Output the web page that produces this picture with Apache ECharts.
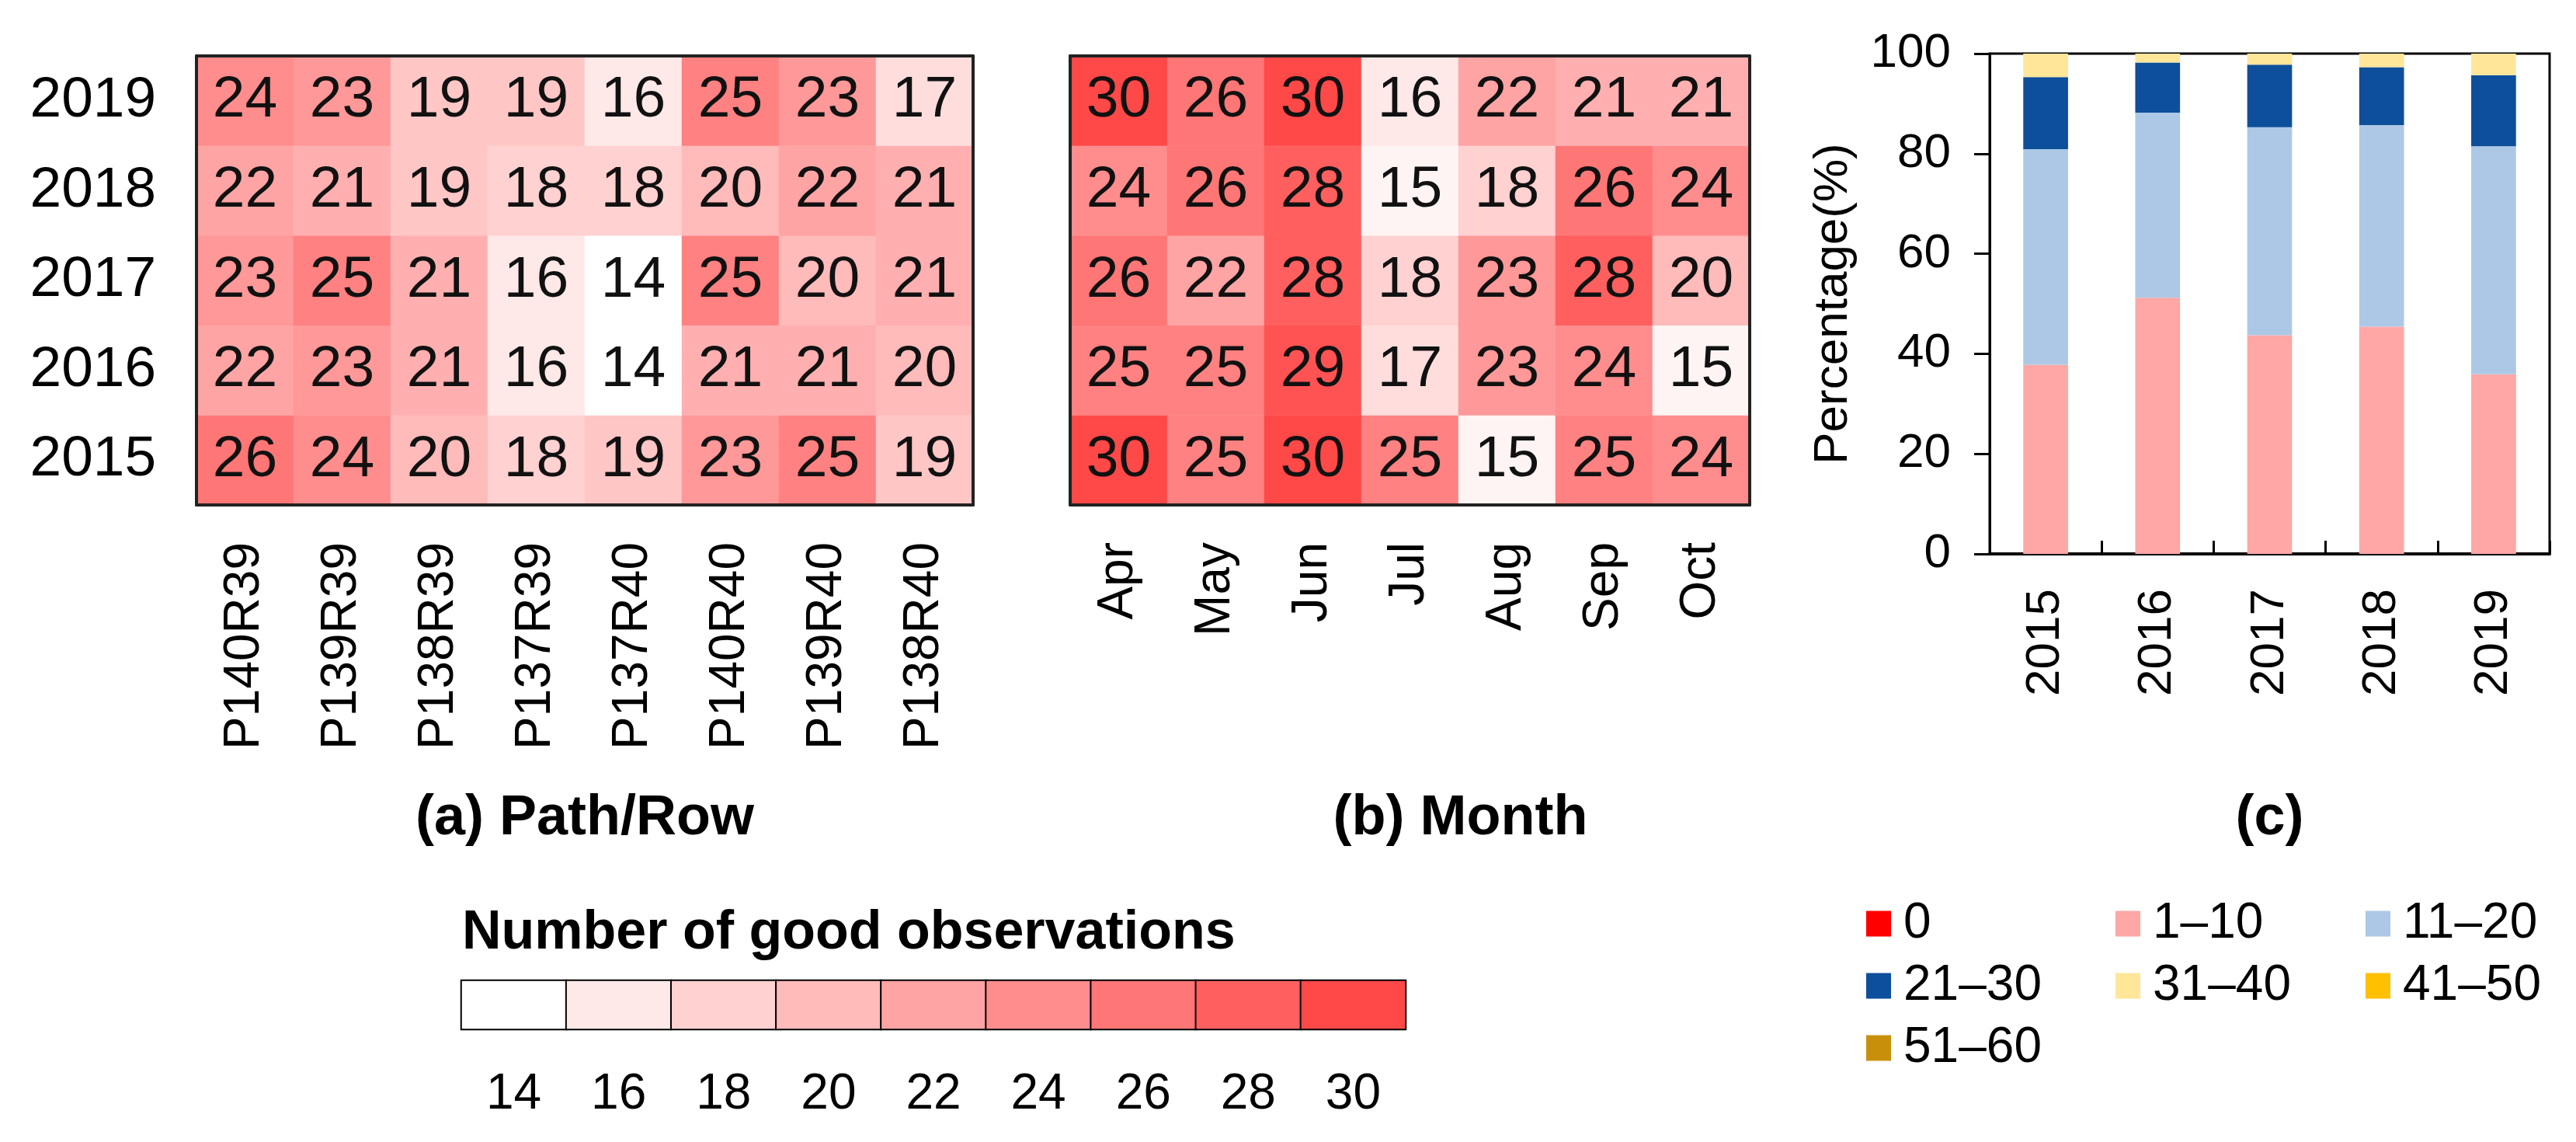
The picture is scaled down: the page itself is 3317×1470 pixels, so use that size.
<!DOCTYPE html>
<html>
<head>
<meta charset="utf-8">
<script src="https://cdn.jsdelivr.net/npm/echarts@6/dist/echarts.min.js"></script>
<style>
  html, body { margin: 0; padding: 0; background: #fff; }
  #chart { width: 3317px; height: 1470px; }
</style>
</head>
<body>
<div id="chart"></div>
<script>
const FONT = "'Liberation Sans', Arial, sans-serif";

const years = ["2015", "2016", "2017", "2018", "2019"];
const pathRows = ["P140R39", "P139R39", "P138R39", "P137R39", "P137R40", "P140R40", "P139R40", "P138R40"];
const months = ["Apr", "May", "Jun", "Jul", "Aug", "Sep", "Oct"];

// one row per year, 2015 first (bottom of the heatmap)
const pathRowCounts = [
  [26, 24, 20, 18, 19, 23, 25, 19],
  [22, 23, 21, 16, 14, 21, 21, 20],
  [23, 25, 21, 16, 14, 25, 20, 21],
  [22, 21, 19, 18, 18, 20, 22, 21],
  [24, 23, 19, 19, 16, 25, 23, 17],
];
const monthCounts = [
  [30, 25, 30, 25, 15, 25, 24],
  [25, 25, 29, 17, 23, 24, 15],
  [26, 22, 28, 18, 23, 28, 20],
  [24, 26, 28, 15, 18, 26, 24],
  [30, 26, 30, 16, 22, 21, 21],
];
const scaleTicks = [14, 16, 18, 20, 22, 24, 26, 28, 30];

// percentage of pixels per class of good observations, 2015..2019
const classNames = ["0", "1–10", "11–20", "21–30", "31–40", "41–50", "51–60"];
const classColors = ["#ff0000", "#ffa6a6", "#adc8e6", "#0d4f9a", "#ffe699", "#ffc000", "#c8900a"];
const share0 = [0, 0, 0, 0, 0];
const share1to10 = [37.8, 51.2, 43.7, 45.4, 35.9];
const share11to20 = [43.1, 37.0, 41.6, 40.3, 45.6];
const share21to30 = [14.4, 10.0, 12.5, 11.6, 14.2];
const share31to40 = [4.7, 1.8, 2.2, 2.7, 4.3];
const share41to50 = [0, 0, 0, 0, 0];
const share51to60 = [0, 0, 0, 0, 0];
const classShares = [share0, share1to10, share11to20, share21to30, share31to40, share41to50, share51to60];

function toCells(matrix) {
  const cells = [];
  matrix.forEach((row, y) => {
    row.forEach((v, x) => cells.push([x, y, v]));
  });
  return cells;
}

const frame = { show: true, lineStyle: { color: "#222", width: 4 } };
const txt = { fontFamily: FONT, color: "#000" };

function frameAxis(gridIndex, data, position) {
  return {
    type: "category", gridIndex, data, position, z: 10,
    axisLine: frame, axisTick: { show: false }, axisLabel: { show: false }, splitLine: { show: false },
  };
}

function heatSeries(xAxisIndex, yAxisIndex, matrix) {
  return {
    type: "heatmap", xAxisIndex, yAxisIndex,
    data: toCells(matrix),
    label: { show: true, fontSize: 75, fontFamily: FONT, color: "#111" },
    emphasis: { disabled: true },
  };
}

const chart = echarts.init(document.getElementById("chart"));

chart.setOption({
  animation: false,
  backgroundColor: "#fff",
  textStyle: { fontFamily: FONT },
  title: {
    text: "Number of good observations",
    left: 590, top: 1162,
    textStyle: { ...txt, fontSize: 70, fontWeight: "bold", lineHeight: 70 },
  },
  grid: [
    { left: 253, top: 72, width: 1000, height: 578 },
    { left: 1378, top: 72, width: 875, height: 578 },
    { left: 2562, top: 69, width: 721, height: 644, show: true, borderColor: "#000", borderWidth: 3 },
    { left: 594, top: 1262, width: 1216, height: 63 },
  ],
  visualMap: {
    type: "continuous", show: false, min: 14, max: 30,
    seriesIndex: [0, 1, 2],
    inRange: { color: ["#ffffff", "#ff4848"] },
  },
  legend: [
    [0, 3, 6, 2398],
    [1, 4, null, 2719],
    [2, 5, null, 3041],
  ].map(col => ({
    orient: "vertical", left: col[3], top: 1152,
    data: col.slice(0, 3).filter(i => i !== null).map(i => classNames[i]),
    icon: "rect", itemWidth: 32, itemHeight: 33, itemGap: 16,
    selectedMode: false,
    textStyle: { ...txt, fontSize: 64, lineHeight: 64, padding: [0, 0, 0, 11] },
  })),
  xAxis: [
    {
      type: "category", gridIndex: 0, data: pathRows, z: 10,
      axisLine: frame, axisTick: { show: false },
      axisLabel: { ...txt, fontSize: 64, rotate: 90, margin: 48 },
      name: "(a) Path/Row", nameLocation: "middle", nameGap: 368,
      nameTextStyle: { ...txt, fontSize: 72, fontWeight: "bold" },
    },
    frameAxis(0, pathRows, "top"),
    {
      type: "category", gridIndex: 1, data: months, z: 10,
      axisLine: frame, axisTick: { show: false },
      axisLabel: { ...txt, fontSize: 64, rotate: 90, margin: 48 },
      name: "(b) Month", nameLocation: "middle", nameGap: 368,
      nameTextStyle: { ...txt, fontSize: 72, fontWeight: "bold", padding: [0, 0, 0, 130] },
    },
    frameAxis(1, months, "top"),
    {
      type: "category", gridIndex: 2, data: years,
      axisLine: { show: true, lineStyle: { color: "#000", width: 4 } },
      axisTick: { show: true, inside: true, length: 17, lineStyle: { color: "#000", width: 3 } },
      axisLabel: { ...txt, fontSize: 62, rotate: 90, margin: 45 },
      name: "(c)", nameLocation: "middle", nameGap: 305,
      nameTextStyle: { ...txt, fontSize: 72, fontWeight: "bold" },
    },
    {
      type: "category", gridIndex: 3, data: scaleTicks.map(String),
      axisLine: { show: false }, axisTick: { show: false },
      axisLabel: { ...txt, fontSize: 64, margin: 52 },
    },
  ],
  yAxis: [
    {
      type: "category", gridIndex: 0, data: years, z: 10,
      axisLine: frame, axisTick: { show: false },
      axisLabel: { ...txt, fontSize: 73, margin: 52 },
    },
    frameAxis(0, years, "right"),
    {
      type: "category", gridIndex: 1, data: years, z: 10,
      axisLine: frame, axisTick: { show: false }, axisLabel: { show: false },
    },
    frameAxis(1, years, "right"),
    {
      type: "value", gridIndex: 2, min: 0, max: 100, interval: 20,
      axisLine: { show: true, lineStyle: { color: "#000", width: 3 } },
      axisTick: { show: true, length: 20, lineStyle: { color: "#000", width: 3 } },
      axisLabel: { ...txt, fontSize: 62, margin: 50 },
      splitLine: { show: false },
      name: "Percentage(%)", nameLocation: "middle", nameGap: 170,
      nameTextStyle: { ...txt, fontSize: 62 },
    },
    {
      type: "category", gridIndex: 3, data: [""],
      axisLine: { show: false }, axisTick: { show: false }, axisLabel: { show: false },
    },
  ],
  series: [
    heatSeries(0, 0, pathRowCounts),
    heatSeries(2, 2, monthCounts),
    {
      type: "heatmap", xAxisIndex: 5, yAxisIndex: 5,
      data: scaleTicks.map((v, i) => [i, 0, v]),
      itemStyle: { borderColor: "#000", borderWidth: 2 },
      emphasis: { disabled: true },
    },
    ...classNames.map((name, i) => ({
      type: "bar", name, xAxisIndex: 4, yAxisIndex: 4, stack: "share",
      barWidth: "40%", data: classShares[i],
      itemStyle: { color: classColors[i] },
      emphasis: { disabled: true },
    })),
  ],
});
</script>
</body>
</html>
